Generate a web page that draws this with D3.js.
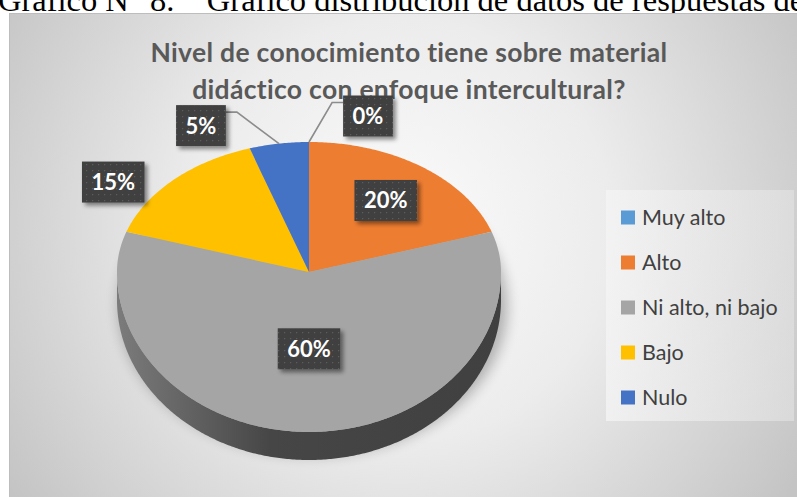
<!DOCTYPE html>
<html>
<head>
<meta charset="utf-8">
<script src="https://cdn.jsdelivr.net/npm/d3@7"></script>
<style>
 body{margin:0;background:#fff;overflow:hidden;}
 text{font-family:Lato,"Open Sans",sans-serif;}
</style>
</head>
<body>
<div id="chart"></div>
<script>
"use strict";

// data
let categories = ["Muy alto","Alto","Ni alto, ni bajo","Bajo","Nulo"];
let values = [0,20,60,15,5];
let pctLabels = ["0%","20%","60%","15%","5%"];
let colors = ["#5B9BD5","#ED7D31","#A5A5A5","#FFC000","#4472C4"];
let titleLines = ["Nivel de conocimiento tiene sobre material","didáctico con enfoque intercultural?"];
let captionText = "Gráfico N° 8.    Gráfico distribución de datos de respuestas de";

// how each label sits: inside (f = share of radius) or outside (offset from rim)
let labelLayout = [
 {dx:59, dy:-26, leader:true},
 {f:0.68},
 {f:0.48},
 {dx:-60, dy:2, leader:false},
 {dx:-78, dy:-18, leader:true}
];

let W = 797, H = 497;

let svg = d3.select("#chart")
.append("svg")
.attr("width",W)
.attr("height",H);

let defs = svg.append("defs");

let bg = defs.append("radialGradient")
.attr("id","bg")
.attr("gradientUnits","userSpaceOnUse")
.attr("cx",400).attr("cy",230).attr("r",470);
bg.append("stop").attr("offset","0").attr("stop-color","#fbfbfb");
bg.append("stop").attr("offset","0.45").attr("stop-color","#ececec");
bg.append("stop").attr("offset","1").attr("stop-color","#c4c4c4");

let leg = defs.append("linearGradient").attr("id","leg");
leg.append("stop").attr("offset","0").attr("stop-color","#f4f4f4").attr("stop-opacity",0.8);
leg.append("stop").attr("offset","1").attr("stop-color","#e4e4e4").attr("stop-opacity",0.6);

let side = defs.append("linearGradient")
.attr("id","side")
.attr("gradientUnits","userSpaceOnUse")
.attr("x1",115).attr("x2",505).attr("y1",0).attr("y2",0);
side.append("stop").attr("offset","0").attr("stop-color","#7c7c7c");
side.append("stop").attr("offset","0.4").attr("stop-color","#464646");
side.append("stop").attr("offset","1").attr("stop-color","#404040");

let pat = defs.append("pattern")
.attr("id","dots")
.attr("patternUnits","userSpaceOnUse")
.attr("width",6).attr("height",6);
pat.append("rect").attr("width",6).attr("height",6).attr("fill","#404040");
pat.append("rect").attr("x",2).attr("y",2).attr("width",1.2).attr("height",1.2).attr("fill","#5c5c5c");

let sh = defs.append("filter").attr("id","shadow")
.attr("x","-30%").attr("y","-30%").attr("width","160%").attr("height","170%");
sh.append("feDropShadow")
.attr("dx",3).attr("dy",3).attr("stdDeviation",2.2)
.attr("flood-color","#000").attr("flood-opacity",0.45);

let blur = defs.append("filter").attr("id","blur")
.attr("x","-20%").attr("y","-20%").attr("width","140%").attr("height","140%");
blur.append("feGaussianBlur").attr("stdDeviation",7);

// caption above the chart (cut off at the top, as in the source page)
svg.append("text")
.attr("x",-2)
.attr("y",11)
.attr("xml:space","preserve")
.style("font-family","'Liberation Serif','Times New Roman',serif")
.style("font-size","32.5px")
.attr("fill","#000")
.text(captionText);

// chart area
svg.append("rect")
.attr("x",9.5).attr("y",13.5)
.attr("width",W).attr("height",H)
.attr("fill","url(#bg)")
.attr("stroke","#bdbdbd");

// title
svg.selectAll(".title")
.data(titleLines)
.join("text")
.attr("class","title")
.attr("x",409)
.attr("y",function(d,i){ return 62+i*37; })
.attr("text-anchor","middle")
.attr("fill","#595959")
.style("font-size","26.5px")
.style("letter-spacing","0.3px")
.style("font-weight","bold")
.text(function(d){ return d; });

// pie geometry
let cx = 309, cy = 272, rx = 192, ryTop = 130, ryBot = 160, depth = 28;

function pt(a, f){
 if(f===undefined) f = 1;
 let ry = Math.cos(a) > 0 ? ryTop : ryBot;
 return [cx + rx*Math.sin(a)*f, cy - ry*Math.cos(a)*f];
}

function ring(a0, a1){
 let n = Math.max(2, Math.ceil((a1-a0)/0.01));
 let pts = [];
 for(let i=0;i<=n;i=i+1){
  pts.push(pt(a0 + (a1-a0)*i/n));
 }
 return pts;
}

let line = d3.line();

let arcs = d3.pie().sort(null).value(function(d){ return d; })(values);

// shadow below the pie
svg.append("ellipse")
.attr("cx",cx+4).attr("cy",cy+depth+6)
.attr("rx",rx+2).attr("ry",(ryTop+ryBot)/2+4)
.attr("fill","#000")
.attr("opacity",0.28)
.attr("filter","url(#blur)");

// side wall (front half)
let front = ring(Math.PI/2, Math.PI*1.5);
let bottom = front.map(function(p){ return [p[0], p[1]+depth]; }).reverse();
svg.append("path")
.attr("d", line(front.concat(bottom)) + "Z")
.attr("fill","url(#side)");

// top slices
svg.selectAll(".slice")
.data(arcs.filter(function(d){ return d.value > 0; }))
.join("path")
.attr("class","slice")
.attr("d", function(d){
  return line([[cx,cy]].concat(ring(d.startAngle, d.endAngle))) + "Z";
})
.attr("fill", function(d){ return colors[d.index]; });

// data labels
arcs.forEach(function(d, i){
 let L = labelLayout[i];
 let mid = (d.startAngle + d.endAngle)/2;
 let c;
 let rim = pt(mid);
 if(L.f !== undefined){
  c = pt(mid, L.f);
 } else {
  c = [rim[0]+L.dx, rim[1]+L.dy];
 }
 let g = svg.append("g");
 let t = g.append("text")
 .attr("x",c[0])
 .attr("y",c[1])
 .attr("dy","0.36em")
 .attr("text-anchor","middle")
 .attr("fill","#fff")
 .style("font-size","22px")
 .style("font-weight","bold")
 .text(pctLabels[i]);
 let w = t.node().getComputedTextLength() + 19;
 let h = 41;
 let bx = c[0]-w/2, by = c[1]-h/2;
 g.insert("rect","text")
 .attr("x",bx).attr("y",by)
 .attr("width",w).attr("height",h)
 .attr("fill","url(#dots)")
 .attr("filter","url(#shadow)");
 if(L.leader){
  let edge = rim[0] < bx ? bx : bx + w;
  let elbow = rim[0] < bx ? edge - 11 : edge + 11;
  let ly = by + 7;
  svg.insert("path", "g")
  .attr("d", line([rim, [elbow, ly], [edge, ly]]))
  .attr("fill","none")
  .attr("stroke","#8c8c8c")
  .attr("stroke-width",1.6);
 }
});

// legend
svg.append("rect")
.attr("x",606).attr("y",190)
.attr("width",188).attr("height",231)
.attr("fill","url(#leg)");

let legY = d3.scalePoint()
.domain(categories)
.range([217.5,397.5]);

svg.selectAll(".legsq")
.data(categories)
.join("rect")
.attr("class","legsq")
.attr("x",621)
.attr("y",function(d){ return legY(d)-7; })
.attr("width",14)
.attr("height",14)
.attr("fill",function(d,i){ return colors[i]; });

svg.selectAll(".legtx")
.data(categories)
.join("text")
.attr("class","legtx")
.attr("x",642)
.attr("y",function(d){ return legY(d); })
.attr("dy","0.35em")
.attr("fill","#404040")
.style("font-size","21.5px")
.text(function(d){ return d; });
</script>
</body>
</html>
